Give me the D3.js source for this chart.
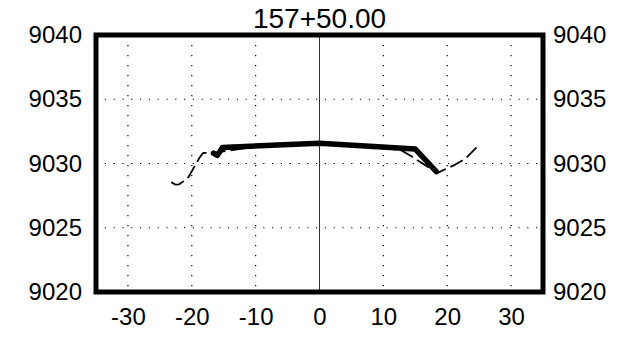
<!DOCTYPE html>
<html>
<head>
<meta charset="utf-8">
<script src="https://cdn.jsdelivr.net/npm/d3@7"></script>
<style>
  html, body { margin: 0; padding: 0; background: #fff; }
  svg { display: block; }
  text { font-family: "Liberation Sans", Arial, sans-serif; fill: #000; }
</style>
</head>
<body>
<script>
const titleText = "157+50.00";
const xTicks = [-30, -20, -10, 0, 10, 20, 30];
const yTicks = [9020, 9025, 9030, 9035, 9040];
const xDomain = [-35, 35];
const yDomain = [9020, 9040];

// Design template (thick line)
const designX = [-16.6, -16.0, -15.2, 0, 15.0, 18.3];
const designY = [9030.8, 9030.63, 9031.25, 9031.58, 9031.12, 9029.37];

// Existing ground (thin dashed line)
const groundX = [-23.2, -22.6, -22.0, -21.4, -20.5, -18.8, -18.2, -16.5, -10, 0, 10, 12.9, 14.2, 15.2, 17.1, 18.6, 19.4, 21.0, 22.8, 23.6, 24.9];
const groundY = [9028.55, 9028.36, 9028.38, 9028.58, 9028.95, 9030.45, 9030.82, 9030.85, 9031.3, 9031.55, 9031.25, 9031.0, 9030.62, 9030.3, 9029.7, 9029.3, 9029.48, 9029.85, 9030.35, 9030.75, 9031.42];

const W = 623, H = 346;
const margin = {left: 96, right: 80, top: 35, bottom: 54};

const svg = d3.select("body").append("svg").attr("width", W).attr("height", H);

const x = d3.scaleLinear().domain(xDomain).range([margin.left, W - margin.right]);
const y = d3.scaleLinear().domain(yDomain).range([H - margin.bottom, margin.top]);

// Grid
const grid = svg.append("g");
grid.selectAll("line.hg").data(yTicks.filter(d => d !== yDomain[0] && d !== yDomain[1]))
  .join("line").attr("class", "hg")
  .attr("x1", x(xDomain[0])).attr("x2", x(xDomain[1]))
  .attr("y1", d => y(d)).attr("y2", d => y(d))
  .attr("stroke", "#000").attr("stroke-width", 1.2).attr("stroke-dasharray", "1.2,7.6");
grid.selectAll("line.vg").data(xTicks.filter(d => d !== 0))
  .join("line").attr("class", "vg")
  .attr("x1", d => x(d)).attr("x2", d => x(d))
  .attr("y1", y(yDomain[1])).attr("y2", y(yDomain[0]))
  .attr("stroke", "#000").attr("stroke-width", 1.2).attr("stroke-dasharray", "1.2,8.8");
grid.append("line")
  .attr("x1", x(0)).attr("x2", x(0))
  .attr("y1", y(yDomain[1])).attr("y2", y(yDomain[0]))
  .attr("stroke", "#333").attr("stroke-width", 1);

// Lines
const line = d3.line().x(d => x(d[0])).y(d => y(d[1]));
svg.append("path")
  .datum(groundX.map((v, i) => [v, groundY[i]]))
  .attr("d", line).attr("fill", "none")
  .attr("stroke", "#000").attr("stroke-width", 1.8)
  .attr("stroke-dasharray", "14,5");
svg.append("path")
  .datum(designX.map((v, i) => [v, designY[i]]))
  .attr("d", line).attr("fill", "none")
  .attr("stroke", "#000").attr("stroke-width", 5.5)
  .attr("stroke-linejoin", "round").attr("stroke-linecap", "round");

// Frame
svg.append("rect")
  .attr("x", x(xDomain[0])).attr("y", y(yDomain[1]))
  .attr("width", x(xDomain[1]) - x(xDomain[0]))
  .attr("height", y(yDomain[0]) - y(yDomain[1]))
  .attr("fill", "none").attr("stroke", "#000").attr("stroke-width", 5);

// Axes (labels only)
const fs = 24;
const fmt = d => String(d);
const axL = svg.append("g").attr("transform", `translate(${x(xDomain[0])},0)`)
  .call(d3.axisLeft(y).tickValues(yTicks).tickSize(0).tickPadding(14).tickFormat(fmt));
const axR = svg.append("g").attr("transform", `translate(${x(xDomain[1])},0)`)
  .call(d3.axisRight(y).tickValues(yTicks).tickSize(0).tickPadding(10).tickFormat(fmt));
const axB = svg.append("g").attr("transform", `translate(0,${y(yDomain[0])})`)
  .call(d3.axisBottom(x).tickValues(xTicks).tickSize(0).tickPadding(16).tickFormat(fmt));
[axL, axR, axB].forEach(a => {
  a.select(".domain").remove();
  a.selectAll("text").attr("font-size", fs).attr("font-family", "Liberation Sans, Arial, sans-serif").attr("fill", "#000");
});
axB.selectAll("text").attr("dy", "0.71em");

// Title
svg.append("text")
  .attr("x", x(0)).attr("y", 28)
  .attr("text-anchor", "middle")
  .attr("font-size", 28)
  .text(titleText);
</script>
</body>
</html>
